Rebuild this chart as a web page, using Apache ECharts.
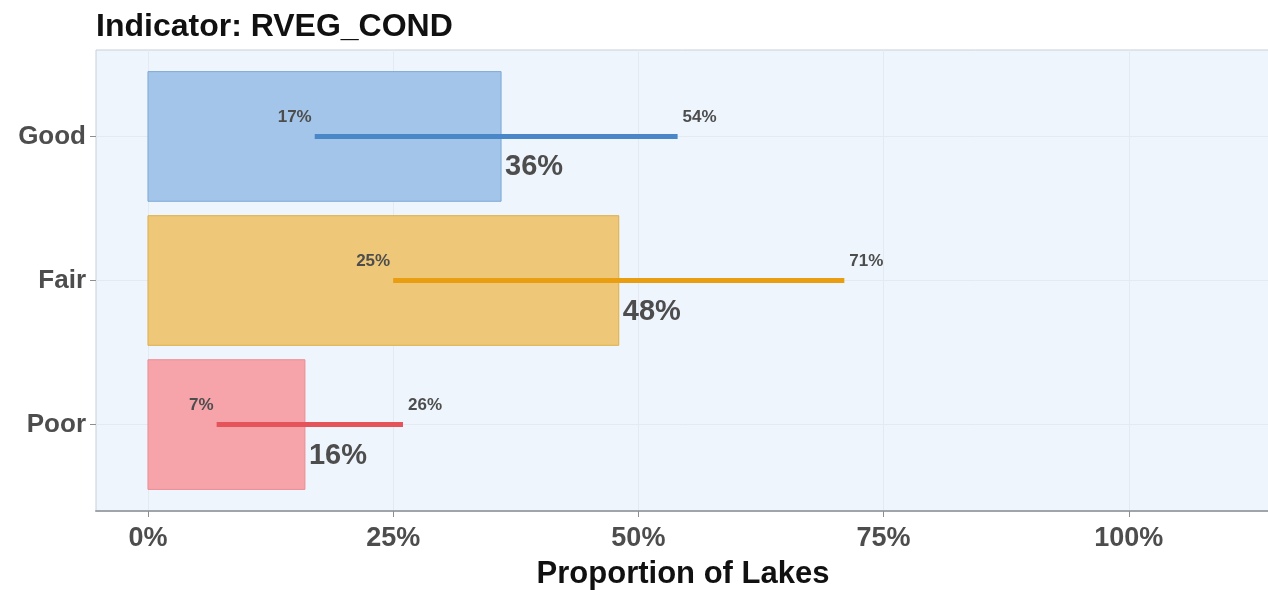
<!DOCTYPE html>
<html>
<head>
<meta charset="utf-8">
<title>Indicator: RVEG_COND</title>
<script src="https://cdn.jsdelivr.net/npm/echarts@6/dist/echarts.min.js"></script>
<style>
  html, body { margin: 0; padding: 0; background: #ffffff; }
  #chart { width: 1268px; height: 590px; }
</style>
</head>
<body>
<div id="chart"></div>
<script>
// Condition classes, estimated proportion of lakes (%) and 95% bounds
const categories = ['Good', 'Fair', 'Poor'];
const estimates = [36, 48, 16];
const lowerBounds = [17, 25, 7];
const upperBounds = [54, 71, 26];
const xTicks = [0, 25, 50, 75, 100];

// Per-class styling
const barFill = ['#a3c5e9', '#efc778', '#f6a4a9'];
const barStroke = ['#7ea8d6', '#ddb04a', '#e98d93'];
const lineColor = ['#4a87c9', '#e99d10', '#e6545b'];

const FONT = '"Liberation Sans", Arial, Helvetica, sans-serif';
const LABEL_GREY = '#4d4d4d';

const chart = echarts.init(document.getElementById('chart'), null, { renderer: 'canvas' });

const barData = categories.map((c, i) => [estimates[i], i + 1, i]);
const ciData = categories.map((c, i) => [lowerBounds[i], i + 1, upperBounds[i], estimates[i], i]);

const option = {
  backgroundColor: '#ffffff',
  animation: false,
  title: {
    text: 'Indicator: RVEG_COND',
    left: 91,
    top: 6,
    textStyle: { fontFamily: FONT, fontSize: 32, fontWeight: 'bold', color: '#111111' }
  },
  grid: {
    left: 96, right: -2, top: 50, bottom: 79,
    outerBoundsMode: 'none',
    containLabel: false,
    show: true,
    backgroundColor: '#eef5fd',
    borderColor: '#c9d0d8',
    borderWidth: 1
  },
  xAxis: {
    type: 'value',
    min: -5.3,
    max: 114.4,
    axisLine: { show: true, onZero: false, lineStyle: { color: '#9fa5ab', width: 2 } },
    axisTick: { show: true, customValues: xTicks, length: 6, lineStyle: { color: '#8a8f94' } },
    axisLabel: {
      customValues: xTicks,
      formatter: v => v + '%',
      fontFamily: FONT, fontSize: 27, fontWeight: 'bold', color: LABEL_GREY, margin: 14
    },
    splitLine: { show: true, lineStyle: { color: '#e3eaf2', width: 1 } },
    name: 'Proportion of Lakes',
    nameLocation: 'middle',
    nameGap: 48,
    nameTextStyle: { fontFamily: FONT, fontSize: 31, fontWeight: 'bold', color: '#111111' }
  },
  yAxis: {
    type: 'value',
    min: 0.4,
    max: 3.6,
    inverse: true,
    axisLine: { show: false, onZero: false },
    axisTick: { show: true, customValues: [1, 2, 3], length: 6, lineStyle: { color: '#8a8f94' } },
    axisLabel: {
      customValues: [1, 2, 3],
      formatter: v => categories[Math.round(v) - 1] || '',
      fontFamily: FONT, fontSize: 26, fontWeight: 'bold', color: LABEL_GREY, margin: 10
    },
    splitLine: { show: true, lineStyle: { color: '#e3eaf2', width: 1 } }
  },
  series: [
    {
      // proportion bars
      type: 'custom',
      data: barData,
      encode: { x: 0, y: 1 },
      z: 2,
      renderItem: function (params, api) {
        const v = api.value(0), pos = api.value(1), k = api.value(2);
        const p0 = api.coord([0, pos]);
        const p1 = api.coord([v, pos]);
        const h = api.size([0, 0.9])[1];
        return {
          type: 'rect',
          shape: { x: p0[0], y: p0[1] - h / 2, width: p1[0] - p0[0], height: h },
          style: { fill: barFill[k], stroke: barStroke[k], lineWidth: 1 }
        };
      }
    },
    {
      // confidence interval lines and value labels
      type: 'custom',
      data: ciData,
      encode: { x: [0, 2], y: 1 },
      z: 3,
      renderItem: function (params, api) {
        const lo = api.value(0), pos = api.value(1), hi = api.value(2), est = api.value(3), k = api.value(4);
        const pLo = api.coord([lo, pos]);
        const pHi = api.coord([hi, pos]);
        const pEst = api.coord([est, pos]);
        const small = { fontFamily: FONT, fontSize: 17, fontWeight: 'bold', fill: LABEL_GREY, verticalAlign: 'middle' };
        return {
          type: 'group',
          children: [
            {
              type: 'line',
              shape: { x1: pLo[0], y1: pLo[1], x2: pHi[0], y2: pHi[1] },
              style: { stroke: lineColor[k], lineWidth: 5, lineCap: 'butt' }
            },
            {
              type: 'text',
              style: Object.assign({ x: pLo[0] - 3, y: pLo[1] - 19, text: lo + '%', align: 'right' }, small)
            },
            {
              type: 'text',
              style: Object.assign({ x: pHi[0] + 5, y: pHi[1] - 19, text: hi + '%', align: 'left' }, small)
            },
            {
              type: 'text',
              style: {
                x: pEst[0] + 4, y: pEst[1] + 31, text: est + '%', align: 'left', verticalAlign: 'middle',
                fontFamily: FONT, fontSize: 29, fontWeight: 'bold', fill: LABEL_GREY
              }
            }
          ]
        };
      }
    }
  ]
};

chart.setOption(option);
</script>
</body>
</html>
